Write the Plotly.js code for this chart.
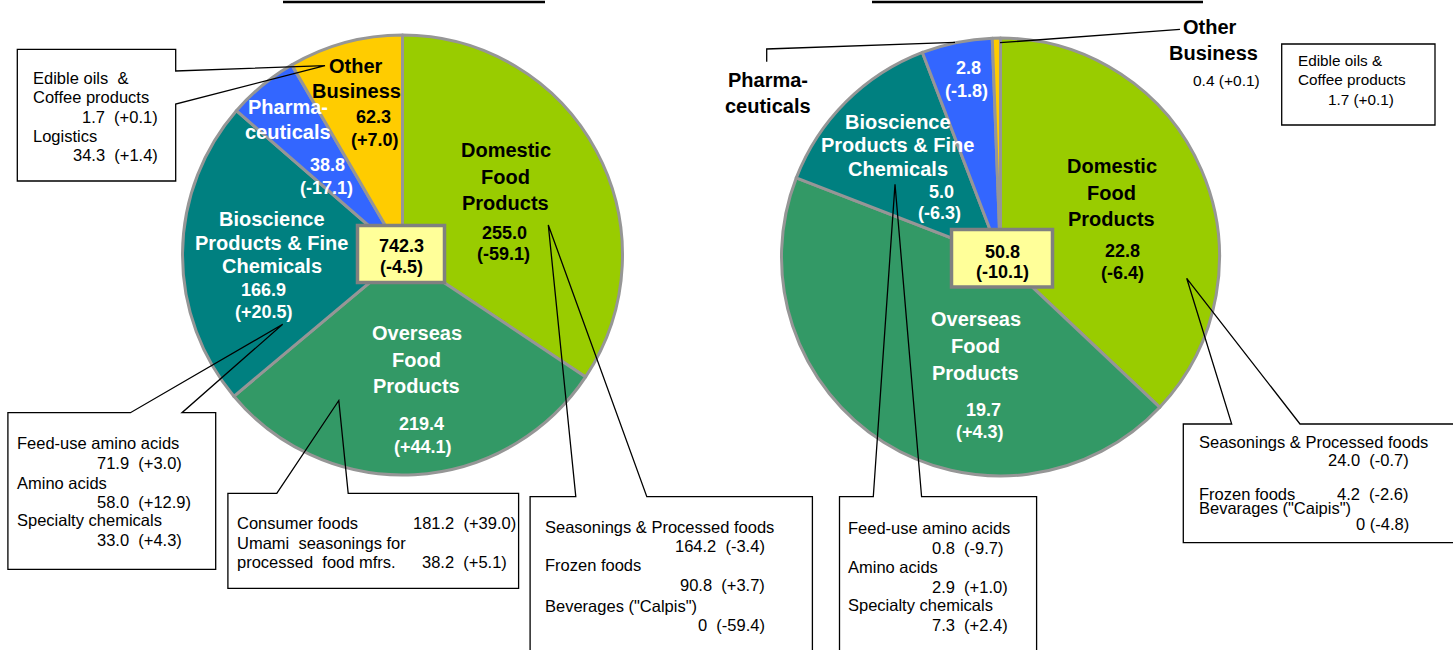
<!DOCTYPE html>
<html><head><meta charset="utf-8">
<script src="https://cdn.plot.ly/plotly-3.0.1.min.js"></script>
<style>html,body{margin:0;padding:0;background:#fff;overflow:hidden}#chart{width:1453px;height:650px}</style>
</head><body><div id="chart"></div>
<script>
// ---------------- DATA ----------------
const segments = ["Domestic Food Products", "Overseas Food Products", "Bioscience Products & Fine Chemicals", "Pharmaceuticals", "Other Business"];
const sliceColors = ["#99CC00", "#339966", "#008080", "#3366FF", "#FFCC00"];

// Net sales (left pie)
const salesValues = [255.0, 219.4, 166.9, 38.8, 62.3];
const salesChange = [-59.1, 44.1, 20.5, -17.1, 7.0];
const salesTotal = [742.3, -4.5];

// Operating income (right pie)
const incomeValues = [22.8, 19.7, 5.0, 2.8, 0.4];
const incomeChange = [-6.4, 4.3, -6.3, -1.8, 0.1];
const incomeTotal = [50.8, -10.1];
// slice sizes (%) of the right pie as drawn in the reference picture
const incomeSliceShare = [37.0, 43.8, 13.3, 5.2, 0.6];

// Breakdown call-outs
const salesOtherItems = ["Edible oils  &\nCoffee products", "Logistics"];
const salesOtherValues = [1.7, 34.3];
const salesOtherChange = [0.1, 1.4];

const salesBioItems = ["Feed-use amino acids", "Amino acids", "Specialty chemicals"];
const salesBioValues = [71.9, 58.0, 33.0];
const salesBioChange = [3.0, 12.9, 4.3];

const salesOverseasItems = ["Consumer foods", "Umami  seasonings for\nprocessed  food mfrs."];
const salesOverseasValues = [181.2, 38.2];
const salesOverseasChange = [39.0, 5.1];

const salesDomesticItems = ["Seasonings & Processed foods", "Frozen foods", "Beverages (\"Calpis\")"];
const salesDomesticValues = [164.2, 90.8, 0];
const salesDomesticChange = [-3.4, 3.7, -59.4];

const incomeBioItems = ["Feed-use amino acids", "Amino acids", "Specialty chemicals"];
const incomeBioValues = [0.8, 2.9, 7.3];
const incomeBioChange = [-9.7, 1.0, 2.4];

const incomeDomesticItems = ["Seasonings & Processed foods", "Frozen foods", "Bevarages (\"Caipis\")"];
const incomeDomesticValues = [24.0, 4.2, 0];
const incomeDomesticChange = [-0.7, -2.6, -4.8];

const incomeOtherItems = ["Edible oils &\nCoffee products"];
const incomeOtherValues = [1.7];
const incomeOtherChange = [0.1];

// ---------------- HELPERS ----------------
const W = 1453, H = 650;
const px = x => x / W, py = y => 1 - y / H;
const nb = s => s.replace(/ {2}/g, '\u00a0\u00a0');
const fv = v => v === 0 ? "0" : v.toFixed(1);
const fc = c => "(" + (c > 0 ? "+" : "") + c.toFixed(1) + ")";
const vc = (v, c, sep) => fv(v) + (sep === undefined ? '\u00a0\u00a0' : sep) + fc(c);

const ARIAL = '"Liberation Sans", Arial, Helvetica, sans-serif';

function label(x, y, text, o) {
  o = o || {};
  return {
    xref: 'paper', yref: 'paper', x: px(x), y: py(y), text: nb(text), showarrow: false,
    xanchor: o.anchor || 'center', yanchor: 'middle', borderpad: 0,
    font: { family: o.family || ARIAL, size: o.size || 16.5, color: o.color || '#000', weight: o.bold ? 'bold' : 'normal' }
  };
}
function path(points, closed) {
  let d = points.map((p, i) => (i ? 'L' : 'M') + px(p[0]).toFixed(5) + ',' + py(p[1]).toFixed(5)).join(' ');
  if (closed) d += ' Z';
  return { type: 'path', xref: 'paper', yref: 'paper', path: d, line: { color: '#000', width: 1.3 }, fillcolor: 'rgba(0,0,0,0)' };
}
function pieTrace(values, cx, cy, r) {
  return {
    type: 'pie', values: values, labels: segments, sort: false, direction: 'clockwise', rotation: 0,
    marker: { colors: sliceColors, line: { color: '#969696', width: 3 } },
    textinfo: 'none', hoverinfo: 'skip', showlegend: false,
    domain: { x: [px(cx - r), px(cx + r)], y: [py(cy + r), py(cy - r)] }
  };
}

// ---------------- TRACES ----------------
const traces = [
  pieTrace(salesValues, 402.5, 255, 220),
  pieTrace(incomeSliceShare, 1000.5, 257, 219)
];

// ---------------- SHAPES ----------------
const shapes = [
  // title underlines (titles are cut off at the top of the picture)
  { type: 'line', xref: 'paper', yref: 'paper', x0: px(283), x1: px(545), y0: py(2), y1: py(2), line: { color: '#000', width: 2.5 } },
  { type: 'line', xref: 'paper', yref: 'paper', x0: px(872), x1: px(1203), y0: py(2), y1: py(2), line: { color: '#000', width: 2.5 } },
  // totals boxes
  { type: 'rect', xref: 'paper', yref: 'paper', x0: px(357.5), x1: px(444.5), y0: py(225.5), y1: py(282.5), fillcolor: '#FFFF99', line: { color: '#808080', width: 3.5 } },
  { type: 'rect', xref: 'paper', yref: 'paper', x0: px(951.5), x1: px(1052.5), y0: py(229.5), y1: py(287), fillcolor: '#FFFF99', line: { color: '#808080', width: 3.5 } },
  // call-out boxes
  path([[17.3, 49.3], [175.7, 49.3], [175.7, 71], [325, 65.7], [175.7, 104], [175.7, 181], [17.3, 181]], true),
  path([[7.9, 412.7], [130.4, 412.7], [282.7, 324.3], [182, 412.7], [215.7, 412.7], [215.7, 569.3], [7.9, 569.3]], true),
  path([[227.9, 493.3], [276.8, 493.3], [338.8, 400.5], [348.2, 493.3], [518.6, 493.3], [518.6, 588.3], [227.9, 588.3]], true),
  path([[530.1, 665], [530.1, 496.7], [575.8, 496.7], [548.3, 225], [646.8, 496.7], [812.4, 496.7], [812.4, 665]], false),
  path([[839.5, 665], [839.5, 496.7], [873.3, 496.7], [895, 184.3], [921.6, 496.7], [1036.6, 496.7], [1036.6, 665]], false),
  path([[1460, 542.7], [1183.3, 542.7], [1183.3, 424], [1231.7, 424], [1186.7, 278.3], [1300, 424], [1460, 424]], false),
  path([[1281.7, 44], [1435, 44], [1435, 125], [1281.7, 125]], true),
  // leader lines on the right pie
  path([[1000, 42.7], [1180, 29.3]], false),
  path([[766.7, 61.7], [766.7, 49], [955, 42.3]], false)
];

// ---------------- ANNOTATIONS ----------------
const A = [];
const nameOpts = (color) => ({ bold: true, size: 20, color: color });
const numOpts = (color) => ({ bold: true, size: 18, color: color });

function sliceLabel(lines, x, ys, color, value, change, nx, nys) {
  lines.forEach((t, i) => A.push(label(x, ys[i], t, nameOpts(color))));
  A.push(label(nx[0], nys[0], fv(value), numOpts(color)));
  A.push(label(nx[1], nys[1], fc(change), numOpts(color)));
}
// Left pie slice labels
sliceLabel(["Domestic", "Food", "Products"], 506, [150, 176.7, 203.3], '#000', salesValues[0], salesChange[0], [504.3, 503.3], [232.7, 254.3]);
sliceLabel(["Overseas", "Food", "Products"], 416.7, [333.3, 360, 386], '#fff', salesValues[1], salesChange[1], [421.7, 423.3], [424.3, 446.7]);
sliceLabel(["Bioscience", "Products & Fine", "Chemicals"], 271.7, [219, 243.3, 265.7], '#fff', salesValues[2], salesChange[2], [263.3, 264.3], [290, 311.7]);
sliceLabel(["Pharma-", "ceuticals"], 288, [106.7, 132.3], '#fff', salesValues[3], salesChange[3], [327.7, 326.7], [165, 187.7]);
sliceLabel(["Other", "Business"], 356, [65.7, 90.7], '#000', salesValues[4], salesChange[4], [373.8, 375], [117.3, 140]);
A.push(label(401, 245.7, fv(salesTotal[0]), numOpts('#000')));
A.push(label(401, 266.7, fc(salesTotal[1]), numOpts('#000')));

// Right pie slice labels
sliceLabel(["Domestic", "Food", "Products"], 1111.5, [166, 192.7, 219.3], '#000', incomeValues[0], incomeChange[0], [1122.7, 1122.3], [251, 273.3]);
sliceLabel(["Overseas", "Food", "Products"], 975.7, [319.3, 346, 373.3], '#fff', incomeValues[1], incomeChange[1], [983.3, 980], [410, 431.7]);
sliceLabel(["Bioscience", "Products & Fine", "Chemicals"], 897.5, [122.3, 145, 169], '#fff', incomeValues[2], incomeChange[2], [941.7, 940], [191.7, 213.3]);
["Pharma-", "ceuticals"].forEach((t, i) => A.push(label(767.5, [80, 106][i], t, nameOpts('#000'))));
A.push(label(968.3, 68.3, fv(incomeValues[3]), numOpts('#fff')));
A.push(label(966.7, 90.7, fc(incomeChange[3]), numOpts('#fff')));
["Other", "Business"].forEach((t, i) => A.push(label([1210, 1213][i], [26.7, 53.3][i], t, nameOpts('#000'))));
A.push(label(1192, 80, vc(incomeValues[4], incomeChange[4], ' '), { anchor: 'left', size: 15.5 }));
A.push(label(1002.7, 251.7, fv(incomeTotal[0]), numOpts('#000')));
A.push(label(1002.7, 271.7, fc(incomeTotal[1]), numOpts('#000')));

// Box 1 : sales, other business
const b1 = salesOtherItems[0].split('\n');
A.push(label(32.3, 77.7, b1[0], { anchor: 'left' }));
A.push(label(32.3, 96.7, b1[1], { anchor: 'left' }));
A.push(label(158.5, 117.3, vc(salesOtherValues[0], salesOtherChange[0]), { anchor: 'right' }));
A.push(label(32.3, 135.7, salesOtherItems[1], { anchor: 'left' }));
A.push(label(158.5, 155, vc(salesOtherValues[1], salesOtherChange[1]), { anchor: 'right' }));

// Box 2 : sales, bioscience
[443.3, 482.7, 520].forEach((y, i) => {
  A.push(label(16, y, salesBioItems[i], { anchor: 'left' }));
  A.push(label(95.7, y + 19.5, vc(salesBioValues[i], salesBioChange[i]), { anchor: 'left' }));
});

// Box 3 : sales, overseas
A.push(label(236.4, 523.3, salesOverseasItems[0], { anchor: 'left' }));
A.push(label(411.8, 523.3, vc(salesOverseasValues[0], salesOverseasChange[0]), { anchor: 'left' }));
const b3 = salesOverseasItems[1].split('\n');
A.push(label(236.4, 542.7, b3[0], { anchor: 'left' }));
A.push(label(236.4, 561.7, b3[1], { anchor: 'left' }));
A.push(label(421.4, 561.7, vc(salesOverseasValues[1], salesOverseasChange[1]), { anchor: 'left' }));

// Box 4 : sales, domestic
[526.5, 565, 605.5].forEach((y, i) => {
  A.push(label(543.7, y, salesDomesticItems[i], { anchor: 'left' }));
  A.push(label(766, y + 19.5, vc(salesDomesticValues[i], salesDomesticChange[i]), { anchor: 'right' }));
});

// Box 5 : income, bioscience
[528.3, 567.3, 605].forEach((y, i) => {
  A.push(label(847.2, y, incomeBioItems[i], { anchor: 'left' }));
  A.push(label(930.8, y + 19.5, vc(incomeBioValues[i], incomeBioChange[i]), { anchor: 'left' }));
});

// Box 6 : income, domestic
A.push(label(1198.3, 441.7, incomeDomesticItems[0], { anchor: 'left' }));
A.push(label(1409.5, 460, vc(incomeDomesticValues[0], incomeDomesticChange[0]), { anchor: 'right' }));
A.push(label(1198.3, 493.5, incomeDomesticItems[1], { anchor: 'left' }));
A.push(label(1409.5, 493.5, vc(incomeDomesticValues[1], incomeDomesticChange[1]), { anchor: 'right' }));
A.push(label(1198.3, 508.5, incomeDomesticItems[2], { anchor: 'left' }));
A.push(label(1409.5, 524, vc(incomeDomesticValues[2], incomeDomesticChange[2], ' '), { anchor: 'right' }));

// Box 7 : income, other business
const b7 = incomeOtherItems[0].split('\n');
A.push(label(1296.7, 60.7, b7[0], { anchor: 'left', size: 15.3 }));
A.push(label(1296.7, 79.3, b7[1], { anchor: 'left', size: 15.3 }));
A.push(label(1326.7, 99.3, vc(incomeOtherValues[0], incomeOtherChange[0], ' '), { anchor: 'left', size: 15.3 }));

const layout = {
  width: W, height: H, margin: { l: 0, r: 0, t: 0, b: 0, pad: 0 },
  paper_bgcolor: '#fff', plot_bgcolor: '#fff', showlegend: false,
  shapes: shapes, annotations: A
};
Plotly.newPlot('chart', traces, layout, { staticPlot: true, displayModeBar: false });
</script>
</body></html>
